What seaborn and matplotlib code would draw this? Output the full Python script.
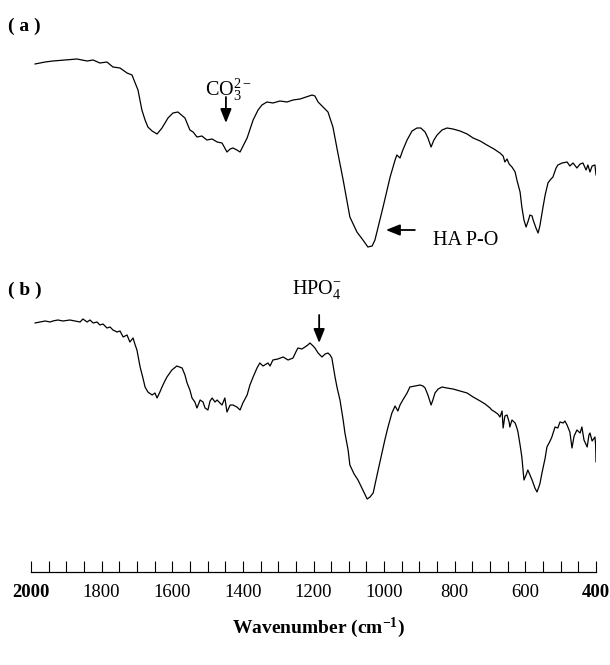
import numpy as np
import matplotlib
matplotlib.use("Agg")
import matplotlib.pyplot as plt
import seaborn as sns

# ---------------- data ----------------
wn_a = [1989, 1960, 1938, 1904, 1870, 1841, 1824, 1805, 1785, 1768,
        1748, 1728, 1714, 1705, 1697, 1686, 1677, 1669, 1657, 1643,
        1629, 1612, 1598, 1584, 1564, 1550, 1541, 1530, 1516, 1502,
        1487, 1473, 1459, 1445, 1436, 1428, 1417, 1408, 1388, 1371,
        1357, 1346, 1332, 1315, 1295, 1275, 1258, 1238, 1221, 1204,
        1196, 1187, 1173, 1159, 1145, 1131, 1116, 1097, 1077, 1060,
        1046, 1034, 1026, 1003, 983, 969, 964, 955, 947, 935,
        921, 907, 896, 884, 876, 867, 859, 850, 836, 822,
        805, 785, 765, 748, 728, 709, 689, 672, 663, 658,
        652, 646, 638, 629, 624, 615, 610, 604, 598, 593,
        587, 581, 578, 570, 564, 559, 550, 544, 536, 530,
        522, 513, 508, 496, 482, 474, 465, 454, 445, 437,
        428, 423, 417, 411, 403, 400]
t_a = [53.6, 53.8, 53.9, 54.0, 54.1, 53.9, 54.0, 53.7, 53.8, 53.3,
       53.2, 52.7, 52.5, 51.7, 51.0, 49.0, 48.0, 47.3, 46.9, 46.6,
       47.2, 48.2, 48.7, 48.8, 48.2, 47.0, 46.8, 46.3, 46.4, 46.0,
       46.1, 45.8, 45.7, 44.8, 45.1, 45.2, 45.0, 44.8, 46.2, 48.0,
       49.0, 49.5, 49.8, 49.7, 49.9, 49.8, 50.0, 50.1, 50.3, 50.5,
       50.4, 49.8, 49.3, 48.8, 47.3, 44.7, 42.0, 38.3, 36.8, 36.0,
       35.3, 35.4, 36.0, 39.3, 42.3, 44.0, 44.5, 44.2, 45.0, 46.0,
       46.9, 47.2, 47.2, 46.8, 46.2, 45.3, 46.0, 46.5, 47.0, 47.2,
       47.1, 46.9, 46.6, 46.2, 45.9, 45.5, 45.1, 44.7, 44.4, 43.8,
       44.1, 43.6, 43.3, 42.8, 42.0, 40.8, 39.3, 38.0, 37.3, 37.8,
       38.5, 38.4, 38.0, 37.2, 36.7, 37.4, 39.3, 40.5, 41.7, 42.0,
       42.3, 43.2, 43.5, 43.7, 43.8, 43.4, 43.7, 43.2, 43.6, 43.7,
       43.0, 43.5, 42.8, 43.4, 43.5, 42.5]

wn_b = [1989, 1975, 1960, 1946, 1938, 1924, 1909, 1890, 1875, 1861,
        1853, 1841, 1833, 1824, 1813, 1805, 1796, 1785, 1776, 1768,
        1756, 1748, 1739, 1728, 1720, 1711, 1705, 1700, 1691, 1683,
        1677, 1669, 1657, 1649, 1643, 1635, 1629, 1621, 1615, 1601,
        1587, 1572, 1564, 1558, 1550, 1544, 1536, 1530, 1521, 1513,
        1507, 1499, 1493, 1487, 1479, 1473, 1465, 1459, 1451, 1445,
        1436, 1428, 1417, 1408, 1400, 1388, 1380, 1371, 1360, 1352,
        1343, 1329, 1323, 1315, 1301, 1286, 1272, 1258, 1250, 1244,
        1233, 1224, 1216, 1210, 1201, 1196, 1187, 1176, 1167, 1159,
        1153, 1148, 1139, 1133, 1125, 1116, 1111, 1102, 1097, 1085,
        1074, 1063, 1048, 1040, 1031, 1020, 1006, 998, 989, 978,
        969, 961, 955, 947, 935, 927, 913, 898, 890, 884,
        876, 867, 862, 856, 847, 836, 822, 805, 785, 765,
        748, 728, 714, 700, 695, 686, 678, 672, 666, 663,
        658, 652, 646, 644, 638, 629, 624, 621, 615, 610,
        604, 598, 593, 587, 581, 573, 567, 559, 553, 544,
        539, 530, 525, 516, 508, 502, 493, 488, 482, 474,
        468, 462, 454, 445, 440, 434, 425, 420, 417, 411,
        403, 401, 400]
t_b = [27.7, 27.8, 27.9, 27.8, 27.9, 28.0, 27.9, 28.0, 27.9, 27.8,
       28.1, 27.8, 28.0, 27.7, 27.8, 27.5, 27.6, 27.2, 27.3, 27.0,
       26.8, 26.9, 26.3, 26.5, 25.8, 26.2, 25.5, 25.0, 23.3, 22.2,
       21.3, 20.8, 20.5, 20.7, 20.2, 20.8, 21.3, 21.9, 22.3, 23.0,
       23.4, 23.2, 22.5, 21.7, 21.0, 20.2, 19.8, 19.2, 20.0, 19.8,
       19.2, 19.0, 19.9, 20.2, 19.8, 20.0, 19.7, 19.5, 20.2, 18.8,
       19.5, 19.5, 19.3, 19.0, 19.7, 20.5, 21.5, 22.3, 23.2, 23.7,
       23.4, 23.7, 23.4, 24.0, 24.1, 24.3, 24.0, 24.2, 24.8, 25.2,
       25.1, 25.3, 25.5, 25.7, 25.4, 25.2, 24.7, 24.3, 24.6, 24.7,
       24.5, 24.2, 22.3, 21.2, 20.0, 18.0, 16.7, 15.0, 13.5, 12.6,
       12.0, 11.2, 10.1, 10.3, 10.7, 12.5, 14.7, 16.0, 17.3, 18.7,
       19.4, 18.9, 19.5, 20.0, 20.7, 21.3, 21.4, 21.5, 21.4, 21.2,
       20.5, 19.5, 20.0, 20.7, 21.1, 21.3, 21.2, 21.1, 20.9, 20.7,
       20.3, 19.9, 19.6, 19.2, 19.0, 18.8, 18.6, 18.3, 18.9, 17.2,
       18.4, 18.5, 17.8, 17.3, 18.0, 17.7, 17.2, 16.8, 15.5, 14.3,
       12.0, 12.5, 13.0, 12.5, 12.0, 11.2, 10.8, 11.6, 12.7, 14.2,
       15.3, 15.9, 16.3, 17.3, 17.2, 17.8, 17.7, 17.9, 17.5, 16.8,
       15.2, 16.4, 17.0, 16.7, 17.3, 16.0, 15.3, 16.5, 16.7, 15.9,
       16.3, 15.5, 13.8]

tick_values = [2000, 1800, 1600, 1400, 1200, 1000, 800, 600, 400]
tick_labels = ["2000", "1800", "1600", "1400", "1200", "1000", "800", "600", "400"]
panel_labels = ["( a )", "( b )"]

# ---------------- style ----------------
sns.set_theme(style="white")
plt.rcParams["font.family"] = ["Liberation Serif", "DejaVu Serif"]
plt.rcParams["text.color"] = "black"
plt.rcParams["axes.labelcolor"] = "black"
plt.rcParams["xtick.color"] = "black"
plt.rcParams["mathtext.fontset"] = "custom"
plt.rcParams["mathtext.rm"] = "Liberation Serif"
plt.rcParams["mathtext.it"] = "Liberation Serif:italic"
plt.rcParams["mathtext.bf"] = "Liberation Serif:bold"

W, H = 610, 665
fig = plt.figure(figsize=(W / 100, H / 100), dpi=100)
ax = fig.add_axes([31 / W, (H - 572) / H, 565 / W, 572 / H])
ax.set_facecolor("white")

sns.lineplot(x=wn_a, y=t_a, ax=ax, color="black", linewidth=0.9,
             sort=False, estimator=None)
sns.lineplot(x=wn_b, y=t_b, ax=ax, color="black", linewidth=0.9,
             sort=False, estimator=None)

ax.set_xlim(2000, 400)
ax.set_ylim(2.8, 60)
ax.set_yticks([])
ax.set_ylabel("")
for s in ["left", "right", "top"]:
    ax.spines[s].set_visible(False)
ax.spines["bottom"].set_color("black")
ax.spines["bottom"].set_linewidth(0.9)

ax.set_xticks(tick_values, labels=tick_labels)
ax.set_xticks(np.arange(400, 2001, 50), minor=True)
ax.tick_params(axis="x", which="both", direction="in", length=8,
               width=0.8, color="black", bottom=True, pad=8.5)
ax.tick_params(axis="x", which="major", labelsize=13.5, labelcolor="black")
for lbl in ax.get_xticklabels():
    if lbl.get_text() in ("2000", "400"):
        lbl.set_fontweight("bold")

# x label
fig.text(318 / W, 1 - 628 / H,
         r"Wavenumber (cm$^{\mathbf{-1}}$)", ha="center", va="center",
         fontsize=14, fontweight="bold", color="black")

# panel labels
fig.text(8 / W, 1 - 26 / H, panel_labels[0], ha="left", va="center",
         fontsize=14, fontweight="bold", color="black")
fig.text(8 / W, 1 - 290 / H, panel_labels[1], ha="left", va="center",
         fontsize=14, fontweight="bold", color="black")

arrow_kw = dict(arrowstyle="-|>,head_length=0.7,head_width=0.28",
                color="black", lw=1.3, shrinkA=0, shrinkB=0)

# CO3 2- annotation
ax.annotate("", xy=(1448, 47.7), xytext=(1448, 50.3), arrowprops=arrow_kw)
ax.text(1442, 51.0, r"CO$_3^{2-}$", ha="center", va="center", fontsize=14.5,
        color="black")

# HA P-O annotation
ax.annotate("", xy=(995, 37.0), xytext=(913, 37.0), arrowprops=arrow_kw)
ax.text(861, 36.0, "HA P-O", ha="left", va="center", fontsize=14.5,
        color="black")

# HPO4- annotation
ax.annotate("", xy=(1184, 25.7), xytext=(1184, 28.5), arrowprops=arrow_kw)
ax.text(1190, 31.1, r"HPO$_4^{-}$", ha="center", va="center", fontsize=14.5,
        color="black")

fig.savefig("out.png", dpi=100, facecolor="white")
